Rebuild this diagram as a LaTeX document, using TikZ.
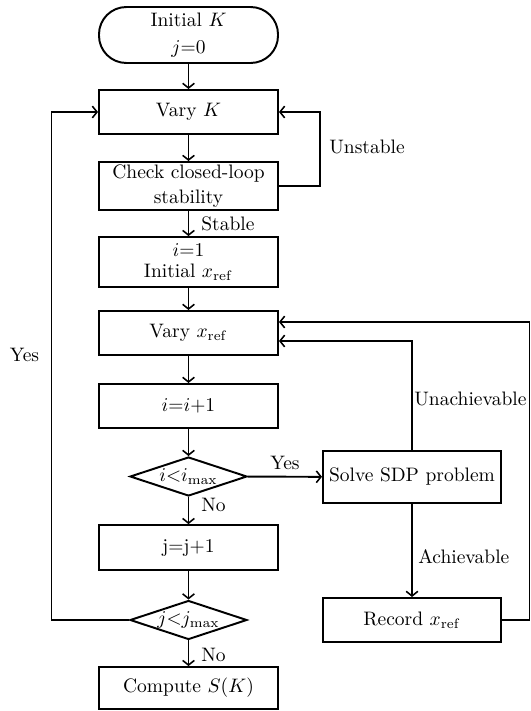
\documentclass[tikz,border=0pt]{standalone}
\usetikzlibrary{shapes.geometric,arrows.meta}
\begin{document}
\begin{tikzpicture}[x=0.5128pt,y=-0.5128pt,
  every node/.style={font=\normalsize},
  box/.style={draw,line width=1pt,rectangle,minimum width=91.8pt,inner sep=1pt,align=center},
  term/.style={box,rounded corners=14pt},
  dec/.style={draw,line width=1pt,diamond,aspect=3,minimum width=60pt,minimum height=20pt,inner sep=0pt},
  conn/.style={line width=1pt,-{Straight Barb[length=2.4pt,width=6pt,line width=0.8pt]}},
  lbl/.style={inner sep=1pt}]
\useasboundingbox (0,0) rectangle (531,711);
\node[term,minimum height=28.7pt] (start) at (188.5,35) {Initial $K$\\[2pt]$j{=}0$};
\node[box,minimum height=22.6pt] (varyK) at (188.5,112) {Vary $K$};
\node[box,minimum height=24.6pt] (check) at (188.5,186) {Check closed-loop\\[0.5pt]stability};
\node[box,minimum height=25.6pt] (init) at (188.5,262) {$i{=}1$\\[-1pt]Initial $x_{\mathrm{ref}}$};
\node[box,minimum height=22.6pt] (varyx) at (188.5,333) {Vary $x_{\mathrm{ref}}$};
\node[box,minimum height=22.6pt] (inc) at (188.5,406) {$i{=}i{+}1$};
\node[dec] (di) at (188.5,476.5) {$i{<}i_{\max}$};
\node[box,minimum height=23pt] (incj) at (188.5,547.5) {j=j+1};
\node[dec] (dj) at (188.5,620) {$j{<}j_{\max}$};
\node[box,minimum height=21.5pt] (comp) at (188.5,688) {Compute $S(K)$};
\node[box,minimum width=91.3pt,minimum height=26.7pt] (sdp) at (412,477) {Solve SDP problem};
\node[box,minimum width=91.3pt,minimum height=22.6pt] (rec) at (412,620) {Record $x_{\mathrm{ref}}$};
\coordinate (uR) at (320,112);
\coordinate (uA) at (412,341);
\coordinate (oR) at (529.5,322);
\coordinate (yL) at (51.5,620);
\draw[conn] (start) -- (varyK);
\draw[conn] (varyK) -- (check);
\draw[conn] (check.east) -| (uR) -- (varyK.east);
\node[lbl,anchor=west] (lunst) at (327,147) {Unstable};
\draw[conn] (check) -- (init);
\node[lbl,anchor=west] (lstab) at (199,224) {Stable};
\draw[conn] (init) -- (varyx);
\draw[conn] (varyx) -- (inc);
\draw[conn] (inc) -- (di);
\draw[conn] (di) -- (sdp);
\node[lbl] (lyes1) at (285,463) {Yes};
\draw[conn] (di) -- (incj);
\node[lbl,anchor=west] (lno1) at (199,505) {No};
\draw[conn] (sdp.north) -- (uA) -- (varyx.east |- uA);
\node[lbl,anchor=west] (lun) at (412,399) {Unachievable};
\draw[conn] (sdp) -- (rec);
\node[lbl,anchor=west] (lach) at (416,557) {Achievable};
\draw[conn] (rec.east) -| (oR) -- (varyx.east |- oR);
\draw[conn] (incj) -- (dj);
\draw[conn] (dj) -- (comp);
\node[lbl,anchor=west] (lno2) at (199,655) {No};
\draw[conn] (dj.west) -- (yL) |- (varyK.west);
\node[lbl] (lyes2) at (24.5,355) {Yes};
\end{tikzpicture}
\end{document}
